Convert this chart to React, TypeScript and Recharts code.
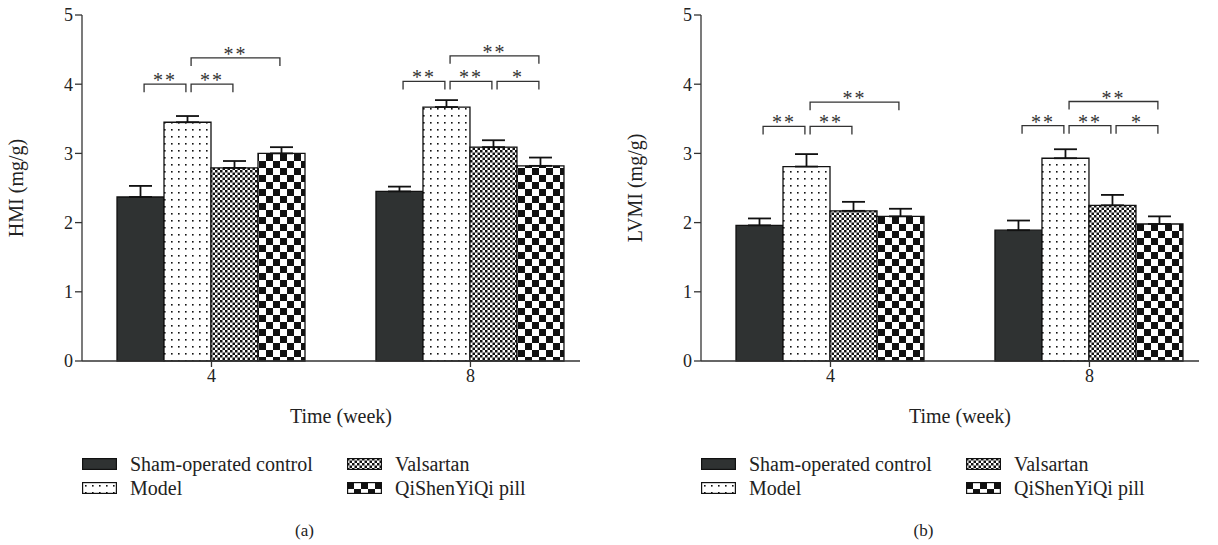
import React from 'react';
import { ComposedChart, Bar, XAxis, YAxis, ErrorBar, ReferenceLine } from 'recharts';

// ---------- data ----------
const weeks = ['4', '8'];
const weekPos = [0.5, 1.5];
const seriesKeys = ['sham', 'model', 'valsartan', 'qsyq'];
const seriesNames = ['Sham-operated control', 'Model', 'Valsartan', 'QiShenYiQi pill'];
const yTicks = [0, 1, 2, 3, 4, 5];

// HMI (panel a)
const hmiSham = [2.37, 2.45];
const hmiShamErr = [0.16, 0.07];
const hmiModel = [3.45, 3.67];
const hmiModelErr = [0.09, 0.1];
const hmiValsartan = [2.79, 3.09];
const hmiValsartanErr = [0.1, 0.1];
const hmiQsyq = [3.0, 2.82];
const hmiQsyqErr = [0.09, 0.12];

// LVMI (panel b)
const lvmiSham = [1.96, 1.89];
const lvmiShamErr = [0.1, 0.14];
const lvmiModel = [2.81, 2.93];
const lvmiModelErr = [0.18, 0.13];
const lvmiValsartan = [2.17, 2.25];
const lvmiValsartanErr = [0.13, 0.15];
const lvmiQsyq = [2.09, 1.98];
const lvmiQsyqErr = [0.11, 0.11];

// significance brackets
const hmiBracketWeek = [0, 0, 0, 1, 1, 1, 1];
const hmiBracketFrom = [0, 1, 1, 0, 1, 2, 1];
const hmiBracketTo = [1, 2, 3, 1, 2, 3, 3];
const hmiBracketLevel = [4.0, 4.0, 4.38, 4.04, 4.04, 4.04, 4.41];
const hmiBracketLabel = ['**', '**', '**', '**', '**', '*', '**'];

const lvmiBracketWeek = [0, 0, 0, 1, 1, 1, 1];
const lvmiBracketFrom = [0, 1, 1, 0, 1, 2, 1];
const lvmiBracketTo = [1, 2, 3, 1, 2, 3, 3];
const lvmiBracketLevel = [3.39, 3.39, 3.74, 3.4, 3.4, 3.4, 3.75];
const lvmiBracketLabel = ['**', '**', '**', '**', '**', '*', '**'];

// ---------- styling ----------
const FONT = '"Liberation Serif", "DejaVu Serif", serif';
const PANEL_W = 609;
const PANEL_H = 545;
const MARGIN = { top: 15, right: 29, bottom: 124, left: 0 };
const X_END = 1.923; // axis runs a little past the last group
const BAR_UNIT = 0.1815; // bar width in x-axis units (one week band = 1 unit)
const BAR_PX = 47;
const AXIS = '#333';

const buildRows = (vals: number[][], errs: number[][]) =>
  weeks.map((w, i) => {
    const row: any = { week: w, pos: weekPos[i] };
    seriesKeys.forEach((k, s) => {
      row[k] = vals[s][i];
      row[k + 'Err'] = [0, errs[s][i]];
    });
    return row;
  });

const buildBrackets = (wk: number[], from: number[], to: number[], lvl: number[], lab: string[]) =>
  wk.map((g, i) => {
    const c = (s: number) => weekPos[g] + (s - 1.5) * BAR_UNIT;
    return { x1: c(from[i]) + 0.012, x2: c(to[i]) - 0.008, y: lvl[i], label: lab[i] };
  });

const Patterns = ({ p }: { p: string }) => (
  <defs>
    <pattern id={`${p}-dots`} width="7" height="7" patternUnits="userSpaceOnUse">
      <rect width="7" height="7" fill="#fff" />
      <rect x="3" y="3" width="1.6" height="1.6" fill="#111" />
    </pattern>
    <pattern id={`${p}-fine`} width="5" height="5" patternUnits="userSpaceOnUse">
      <rect width="5" height="5" fill="#fff" />
      <rect x="0" y="0" width="2.5" height="2.5" fill="#111" />
      <rect x="2.5" y="2.5" width="2.5" height="2.5" fill="#111" />
    </pattern>
    <pattern id={`${p}-coarse`} width="14" height="14" patternUnits="userSpaceOnUse">
      <rect width="14" height="14" fill="#fff" />
      <rect x="0" y="0" width="7" height="7" fill="#111" />
      <rect x="7" y="7" width="7" height="7" fill="#111" />
    </pattern>
  </defs>
);

const fills = (p: string) => ['#2f3232', `url(#${p}-dots)`, `url(#${p}-fine)`, `url(#${p}-coarse)`];

const bracketShape = (label: string) => (props: any) => {
  const { x1, y1, x2, y2 } = props;
  const tick = 8;
  return (
    <g>
      <path
        d={`M${x1},${y1 + tick}V${y1}H${x2}V${y2 + tick}`}
        stroke={AXIS}
        strokeWidth={1.3}
        fill="none"
      />
      <text
        x={(x1 + x2) / 2}
        y={y1 + 3}
        textAnchor="middle"
        fontFamily={FONT}
        fontSize={20}
        letterSpacing={2}
        fill="#333"
      >
        {label}
      </text>
    </g>
  );
};

const Swatch = ({ p, idx }: { p: string; idx: number }) => (
  <svg width={35} height={12} style={{ display: 'block' }}>
    <Patterns p={p} />
    <rect x={0.6} y={0.6} width={33.8} height={10.8} fill={fills(p)[idx]} stroke="#111" strokeWidth={1.2} />
  </svg>
);

const Panel = ({
  id,
  rows,
  brackets,
  yLabel,
  panelLabel,
}: {
  id: string;
  rows: any[];
  brackets: any[];
  yLabel: string;
  panelLabel: string;
}) => {
  const f = fills(id);
  return (
    <div style={{ position: 'relative', width: PANEL_W, height: PANEL_H }}>
      <ComposedChart width={PANEL_W} height={PANEL_H} data={rows} margin={MARGIN} barGap={0}>
        <Patterns p={id} />
        <XAxis
          dataKey="pos"
          type="number"
          domain={[0, X_END]}
          allowDataOverflow
          ticks={weekPos}
          interval={0}
          tickFormatter={(v: number) => weeks[weekPos.indexOf(v)] ?? ''}
          height={60}
          axisLine={{ stroke: AXIS, strokeWidth: 1.3 }}
          tickLine={{ stroke: AXIS, strokeWidth: 1.3 }}
          tickSize={6}
          tick={{ fontFamily: FONT, fontSize: 18, fill: '#222' }}
          label={{
            content: (props: any) => {
              const vb = props.viewBox;
              return (
                <text
                  x={vb.x + vb.width / 2 + 10}
                  y={vb.y + 62}
                  textAnchor="middle"
                  fontFamily={FONT}
                  fontSize={20}
                  fill="#222"
                >
                  Time (week)
                </text>
              );
            },
          }}
        />
        <YAxis
          width={82}
          domain={[0, 5]}
          ticks={yTicks}
          interval={0}
          axisLine={{ stroke: AXIS, strokeWidth: 1.3 }}
          tickLine={{ stroke: AXIS, strokeWidth: 1.3 }}
          tickSize={7}
          tick={{ fontFamily: FONT, fontSize: 18, fill: '#222' }}
          label={{
            content: (props: any) => {
              const vb = props.viewBox;
              const cx = vb.x + 16;
              const cy = vb.y + vb.height / 2;
              return (
                <text
                  x={cx}
                  y={cy}
                  transform={`rotate(-90 ${cx} ${cy})`}
                  textAnchor="middle"
                  dominantBaseline="central"
                  fontFamily={FONT}
                  fontSize={20}
                  fill="#222"
                >
                  {yLabel}
                </text>
              );
            },
          }}
        />
        {seriesKeys.map((k, s) => (
          <Bar
            key={k}
            dataKey={k}
            name={seriesNames[s]}
            fill={f[s]}
            stroke="#111"
            strokeWidth={1.3}
            barSize={BAR_PX}
            isAnimationActive={false}
          >
            <ErrorBar dataKey={k + 'Err'} width={11.5} stroke="#111" strokeWidth={1.8} direction="y" />
          </Bar>
        ))}
        {brackets.map((b, i) => (
          <ReferenceLine
            key={i}
            segment={[
              { x: b.x1, y: b.y },
              { x: b.x2, y: b.y },
            ]}
            ifOverflow="visible"
            shape={bracketShape(b.label)}
          />
        ))}
      </ComposedChart>
      {seriesNames.map((name, s) => {
        const col = s < 2 ? 0 : 1;
        const row = s % 2;
        const left = col === 0 ? 82 : 347;
        const top = row === 0 ? 458 : 482;
        return (
          <div
            key={name}
            style={{
              position: 'absolute',
              left,
              top: top - 6,
              height: 24,
              display: 'flex',
              alignItems: 'center',
              fontFamily: FONT,
              fontSize: 20,
              color: '#222',
              whiteSpace: 'nowrap',
            }}
          >
            <Swatch p={`${id}-leg${s}`} idx={s} />
            <span style={{ marginLeft: 13 }}>{name}</span>
          </div>
        );
      })}
      <div
        style={{
          position: 'absolute',
          left: 0,
          width: PANEL_W,
          top: 521,
          textAlign: 'center',
          fontFamily: FONT,
          fontSize: 17,
          color: '#222',
        }}
      >
        {panelLabel}
      </div>
    </div>
  );
};

export default function App() {
  const hmiRows = buildRows(
    [hmiSham, hmiModel, hmiValsartan, hmiQsyq],
    [hmiShamErr, hmiModelErr, hmiValsartanErr, hmiQsyqErr]
  );
  const lvmiRows = buildRows(
    [lvmiSham, lvmiModel, lvmiValsartan, lvmiQsyq],
    [lvmiShamErr, lvmiModelErr, lvmiValsartanErr, lvmiQsyqErr]
  );
  const hmiBr = buildBrackets(hmiBracketWeek, hmiBracketFrom, hmiBracketTo, hmiBracketLevel, hmiBracketLabel);
  const lvmiBr = buildBrackets(lvmiBracketWeek, lvmiBracketFrom, lvmiBracketTo, lvmiBracketLevel, lvmiBracketLabel);
  return (
    <div
      style={{
        position: 'absolute',
        left: 0,
        top: 0,
        width: 1218,
        height: 545,
        overflow: 'hidden',
        background: '#fff',
      }}
    >
      <div style={{ position: 'absolute', left: 0, top: 0 }}>
        <Panel id="a" rows={hmiRows} brackets={hmiBr} yLabel="HMI (mg/g)" panelLabel="(a)" />
      </div>
      <div style={{ position: 'absolute', left: 619, top: 0 }}>
        <Panel id="b" rows={lvmiRows} brackets={lvmiBr} yLabel="LVMI (mg/g)" panelLabel="(b)" />
      </div>
    </div>
  );
}
